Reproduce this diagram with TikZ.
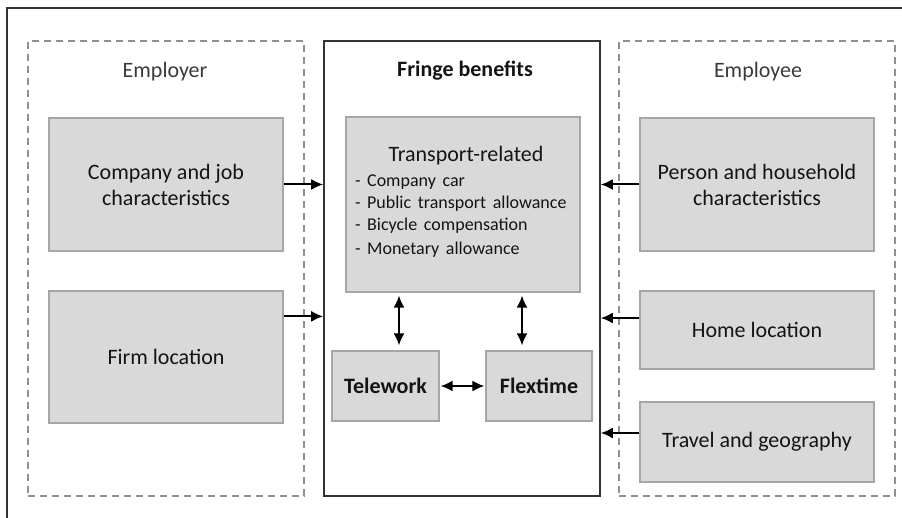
\documentclass[tikz,border=0pt]{standalone}
\usepackage{fontspec}
\setmainfont{Carlito}
\usetikzlibrary{arrows.meta, positioning}
\definecolor{boxfill}{HTML}{D9D9D9}
\definecolor{boxline}{HTML}{A6A6A6}
\definecolor{dashline}{HTML}{8F8F8F}
\definecolor{textdark}{HTML}{141414}
\definecolor{labelgray}{HTML}{3A3A3A}
\tikzset{
  groupbox/.style={rectangle, draw=dashline, line width=1pt, dash pattern=on 3.5pt off 2.5pt, minimum width=138pt, minimum height=227.5pt, inner sep=0pt},
  mainbox/.style={rectangle, draw=black!80, line width=0.8pt, minimum width=138pt, minimum height=227.5pt, inner sep=0pt},
  factor/.style={rectangle, draw=boxline, line width=0.6pt, fill=boxfill, minimum width=117pt, text=textdark, align=center, font=\fontsize{11}{13}\selectfont},
  benefit/.style={factor, minimum width=53.5pt, minimum height=35pt, font=\fontsize{11}{13}\selectfont\bfseries},
  grouplabel/.style={text=labelgray, font=\fontsize{11}{13}\selectfont},
  arrow/.style={line width=1pt, -{Latex[length=6pt,width=5.5pt]}},
  dblarrow/.style={line width=1pt, {Latex[length=6pt,width=5.5pt]}-{Latex[length=6pt,width=5.5pt]}}
}

\begin{document}
\begin{tikzpicture}[x=0.5pt, y=-0.5pt]
  \useasboundingbox (0,0) rectangle (902,518);

  % Marco exterior
  \draw[black!80, line width=0.9pt] (7,518) -- (7,8) -- (902,8);

  % Employer
  \node[groupbox] (employer) at (166,268.5) {};
  \node[grouplabel] (employerlbl) at (165,72) {Employer};
  \node[factor, minimum height=66.5pt] (company) at (166,184.5) {Company and job\\characteristics};
  \node[factor, minimum height=66pt] (firm) at (166,357) {Firm location};

  % Fringe benefits
  \node[mainbox] (fringe) at (462,268.5) {};
  \node[font=\fontsize{11}{13}\selectfont\bfseries, text=textdark] (fringelbl) at (465,71) {Fringe benefits};
  \node[factor, minimum height=87.5pt] (transport) at (463,204.5) {};
  \node[text width=111pt, align=left, inner sep=0pt, text=textdark] (transportlst) at (466,201.5) {%
    \makebox[\linewidth][c]{\fontsize{11}{13}\selectfont Transport-related}\\[1.5pt]
    {\fontsize{9}{11}\selectfont - Company car\\
    - Public transport allowance\\
    - Bicycle compensation\\
    - Monetary allowance}};
  \node[benefit] (telework) at (385.5,386) {Telework};
  \node[benefit, minimum width=53pt] (flextime) at (539,386) {Flextime};

  % Employee
  \node[groupbox] (employee) at (756.5,268.5) {};
  \node[grouplabel] (employeelbl) at (758,72) {Employee};
  \node[factor, minimum height=66.5pt] (person) at (757,184.5) {Person and household\\characteristics};
  \node[factor, minimum height=39pt] (home) at (757,330) {Home location};
  \node[factor, minimum height=40pt] (travel) at (757,442) {Travel and geography};

  % Flechas hacia fringe benefits
  \draw[arrow] (company.east) -- (company.east -| fringe.west);
  \draw[arrow] ([yshift=-13pt]firm.north east) coordinate (firmout) -- (firmout -| fringe.west);
  \draw[arrow] (person.west) -- (person.west -| fringe.east);
  \draw[arrow] ([yshift=6pt]home.west) coordinate (homeout) -- (homeout -| fringe.east);
  \draw[arrow] ([yshift=4.5pt]travel.west) coordinate (travelout) -- (travelout -| fringe.east);

  % Flechas internas
  \draw[dblarrow, shorten >=1.5pt, shorten <=2.5pt] ([xshift=6.75pt]telework.north) coordinate (twtop) -- (twtop |- transport.south);
  \draw[dblarrow, shorten >=1.5pt, shorten <=2.5pt] ([xshift=-8.5pt]flextime.north) coordinate (fttop) -- (fttop |- transport.south);
  \draw[dblarrow, shorten >=0.5pt, shorten <=0.5pt] (telework.east) -- (flextime.west);

\end{tikzpicture}
\end{document}
